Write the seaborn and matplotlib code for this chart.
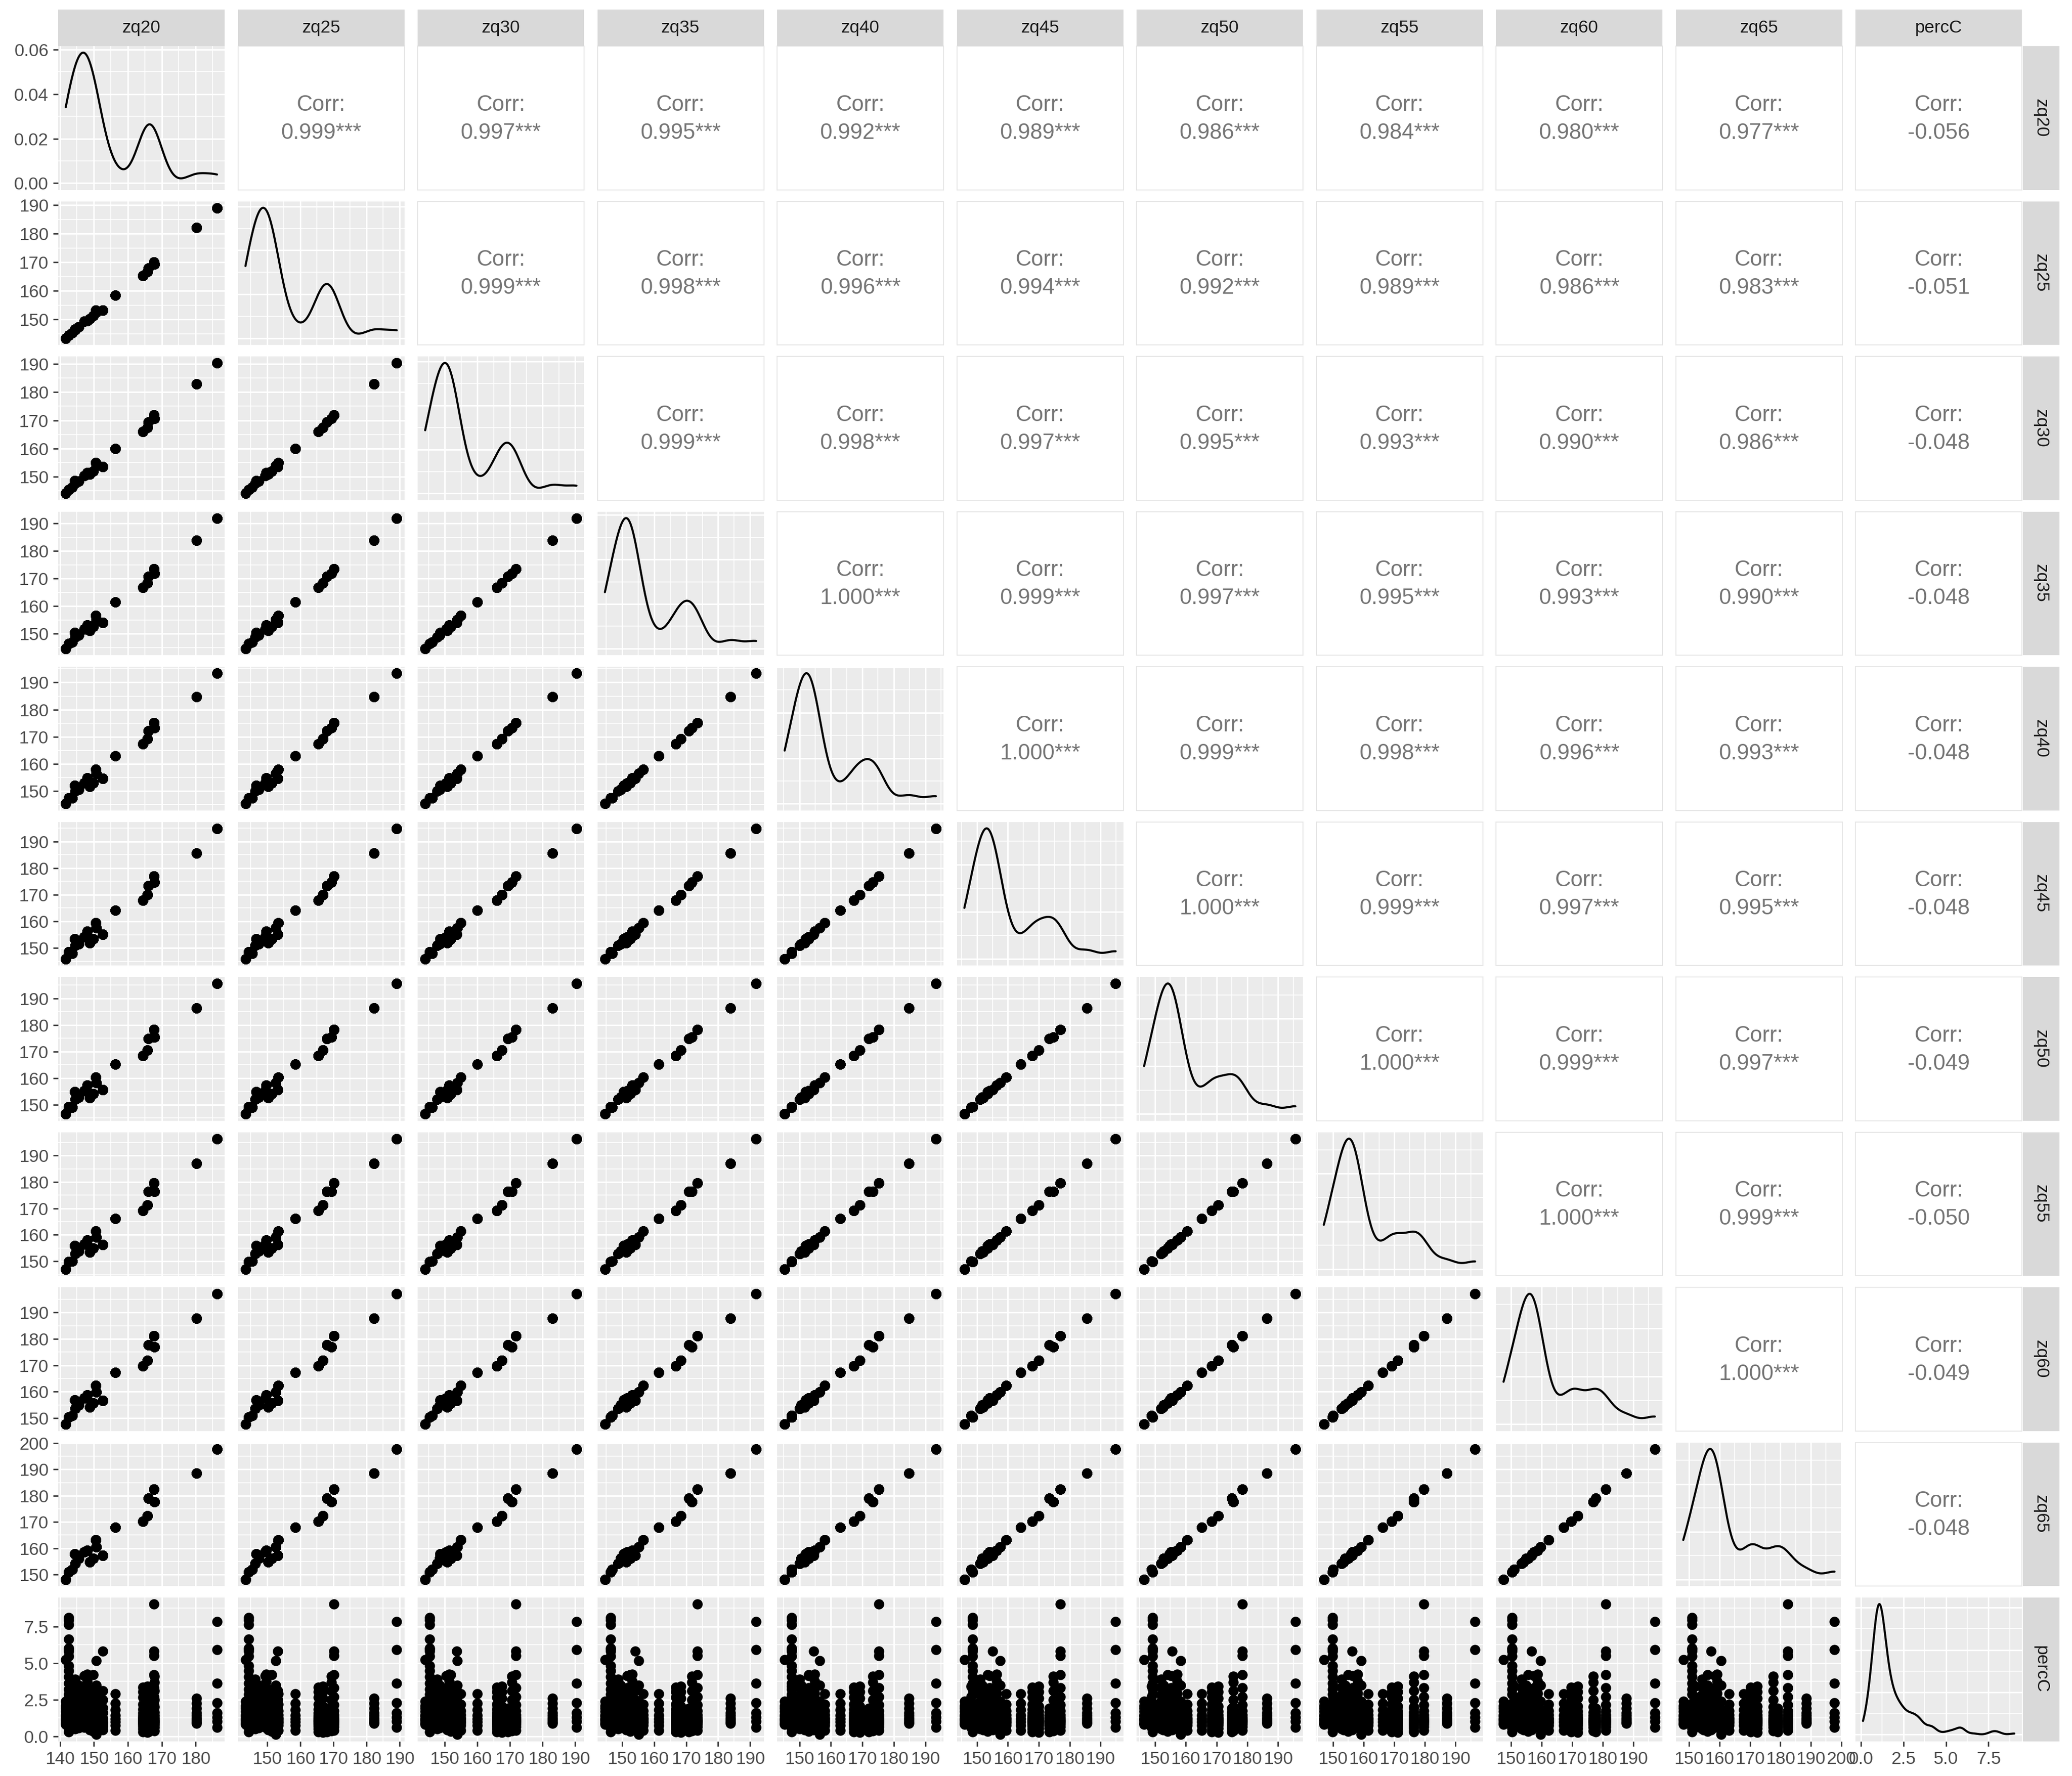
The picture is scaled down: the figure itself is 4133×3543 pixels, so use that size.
import numpy as np
import pandas as pd
import matplotlib
matplotlib.use("Agg")
import matplotlib.pyplot as plt
from matplotlib.ticker import MultipleLocator, MaxNLocator, AutoMinorLocator, FormatStrFormatter
import seaborn as sns

sns.set_style("white")
plt.rcParams["font.family"] = ["Liberation Sans", "DejaVu Sans"]

# one entry per station: the zq quantiles are fixed per station, percC varies
zq20 = [141.7, 142.6, 143.6, 144.5, 144.4, 145.6, 147.1, 148.0, 148.8, 149.8, 150.5,
        150.7, 152.6, 156.3, 164.5, 165.8, 166.1, 167.9, 167.7, 180.2, 186.3]
zq25 = [143.4, 144.4, 145.4, 146.3, 146.6, 147.4, 149.3, 149.6, 150.3, 151.3, 153.3,
        152.6, 153.2, 158.4, 165.4, 166.8, 168.0, 169.4, 170.1, 182.2, 189.1]
zq30 = [144.0, 145.3, 146.2, 147.6, 148.6, 148.4, 150.4, 151.4, 150.8, 151.9, 154.9,
        153.9, 153.6, 159.9, 166.0, 167.5, 169.4, 170.6, 171.8, 183.0, 190.4]
zq35 = [144.6, 146.4, 146.9, 148.8, 150.4, 149.5, 151.6, 153.2, 151.2, 152.5, 156.5,
        155.2, 154.0, 161.5, 166.7, 168.3, 170.8, 171.8, 173.5, 183.9, 191.9]
zq40 = [145.3, 147.5, 147.5, 150.0, 152.0, 150.6, 152.9, 154.8, 151.6, 152.9, 158.0,
        156.4, 154.6, 162.9, 167.3, 169.2, 172.1, 173.3, 175.2, 184.8, 193.4]
zq45 = [145.9, 148.6, 148.0, 151.0, 153.4, 151.6, 154.1, 156.3, 151.9, 153.4, 159.4,
        157.5, 155.1, 164.2, 167.9, 170.0, 173.4, 174.7, 176.9, 185.6, 194.9]
zq50 = [146.5, 149.2, 149.0, 152.0, 154.8, 152.8, 155.3, 157.3, 152.6, 154.2, 160.4,
        158.3, 155.6, 165.2, 168.5, 170.6, 174.9, 175.5, 178.3, 186.4, 195.6]
zq55 = [147.0, 149.8, 150.0, 152.8, 155.9, 153.9, 156.4, 158.0, 153.4, 155.0, 161.4,
        159.1, 156.2, 166.2, 169.1, 171.2, 176.3, 176.3, 179.7, 187.1, 196.4]
zq60 = [147.6, 150.4, 151.0, 153.5, 156.9, 155.0, 157.6, 158.7, 154.1, 155.6, 162.3,
        159.8, 156.7, 167.2, 169.7, 171.8, 177.7, 177.0, 181.1, 187.8, 197.1]
zq65 = [148.1, 151.0, 152.0, 154.2, 157.8, 156.1, 158.6, 159.2, 154.8, 156.1, 163.1,
        160.5, 157.2, 168.0, 170.2, 172.3, 179.1, 177.7, 182.4, 188.5, 197.8]

percC_by_station = [
    [0.82, 0.88, 1.02, 1.15, 1.21, 1.38, 1.47, 1.72, 1.90, 2.10, 2.38, 5.22],
    [0.31, 0.55, 0.68, 0.79, 1.03, 1.11, 1.35, 1.56, 1.85, 2.27, 2.86, 3.22, 3.61, 4.05,
     4.47, 4.82, 5.48, 5.80, 5.95, 6.02, 6.62, 7.62, 7.92, 8.10],
    [0.62, 0.78, 0.96, 1.04, 1.18, 1.26, 1.45, 1.60, 2.00, 2.30, 2.70, 3.40],
    [0.50, 0.72, 0.93, 1.00, 1.12, 1.19, 1.36, 1.48, 1.82, 2.05, 2.40, 2.85, 3.35, 3.90],
    [0.70, 0.90, 1.02, 1.12, 1.24, 1.40, 1.62, 1.95, 2.45, 3.10],
    [0.58, 0.76, 0.89, 0.95, 0.99, 1.07, 1.14, 1.18, 1.22, 1.31, 1.43, 1.58, 1.80, 2.15, 2.70, 3.50],
    [0.60, 0.74, 0.80, 0.85, 0.90, 0.94, 0.98, 1.01, 1.05, 1.08, 1.12, 1.15, 1.19, 1.23, 1.27, 1.32,
     1.36, 1.42, 1.48, 1.55, 1.72, 1.95, 2.25, 2.65, 3.05, 3.30, 4.15],
    [0.65, 0.80, 0.86, 0.90, 0.94, 0.97, 1.01, 1.05, 1.09, 1.12, 1.16, 1.20, 1.25, 1.29, 1.34, 1.40,
     1.45, 1.53, 1.60, 1.70, 1.92, 2.20, 2.55, 2.95, 3.35, 3.75, 4.22],
    [0.45, 0.70, 0.86, 0.92, 0.98, 1.02, 1.06, 1.14, 1.20, 1.25, 1.38, 1.55, 1.80, 2.20, 2.80],
    [0.35, 0.62, 0.80, 0.86, 0.92, 0.97, 1.02, 1.06, 1.10, 1.19, 1.24, 1.30, 1.45, 1.65, 1.95, 2.40,
     3.00, 4.20],
    [0.40, 0.75, 0.92, 1.04, 1.15, 1.28, 1.46, 1.75, 2.20, 2.90],
    [0.12, 0.55, 0.82, 0.96, 1.07, 1.32, 1.85, 2.40, 3.50, 5.15],
    [0.45, 0.72, 0.88, 1.00, 1.22, 1.60, 1.95, 2.50, 3.10, 5.82],
    [0.40, 0.75, 1.00, 1.20, 1.45, 1.80, 2.25, 2.92],
    [0.30, 0.52, 0.70, 0.82, 0.93, 1.02, 1.10, 1.19, 1.29, 1.42, 1.60, 1.85, 2.20, 2.65, 3.05, 3.35],
    [0.28, 0.55, 0.74, 0.88, 0.99, 1.08, 1.18, 1.30, 1.46, 1.70, 2.05, 2.60, 3.05, 3.40],
    [0.30, 0.55, 0.72, 0.86, 0.98, 1.10, 1.25, 1.45, 1.65, 1.90],
    [0.36, 0.62, 0.80, 0.93, 1.04, 1.14, 1.26, 1.42, 1.65, 2.00, 2.50, 3.10, 3.70, 4.10],
    [0.40, 0.65, 0.82, 0.95, 1.06, 1.17, 1.30, 1.48, 1.75, 2.15, 2.70, 3.30, 4.20, 5.50, 5.82, 9.02],
    [0.88, 1.00, 1.12, 1.25, 1.42, 1.62, 1.90, 2.25, 2.58],
    [0.62, 1.02, 1.30, 1.62, 2.28, 3.62, 5.92, 7.82],
]

variables = ["zq20", "zq25", "zq30", "zq35", "zq40", "zq45", "zq50", "zq55", "zq60", "zq65", "percC"]

# correlation labels shown in the upper triangle, row by row
corr_labels = [
    ["0.999***", "0.997***", "0.995***", "0.992***", "0.989***", "0.986***", "0.984***", "0.980***", "0.977***", "-0.056"],
    ["0.999***", "0.998***", "0.996***", "0.994***", "0.992***", "0.989***", "0.986***", "0.983***", "-0.051"],
    ["0.999***", "0.998***", "0.997***", "0.995***", "0.993***", "0.990***", "0.986***", "-0.048"],
    ["1.000***", "0.999***", "0.997***", "0.995***", "0.993***", "0.990***", "-0.048"],
    ["1.000***", "0.999***", "0.998***", "0.996***", "0.993***", "-0.048"],
    ["1.000***", "0.999***", "0.997***", "0.995***", "-0.048"],
    ["1.000***", "0.999***", "0.997***", "-0.049"],
    ["1.000***", "0.999***", "-0.050"],
    ["1.000***", "-0.049"],
    ["-0.048"],
]

zq_cols = dict(zip(variables[:-1], [zq20, zq25, zq30, zq35, zq40, zq45, zq50, zq55, zq60, zq65]))
records = []
for k, vals in enumerate(percC_by_station):
    for v in vals:
        rec = {name: col[k] for name, col in zq_cols.items()}
        rec["percC"] = v
        records.append(rec)
df = pd.DataFrame(records)

# layout in pixels of the 4133 x 3543 canvas
W, H = 4133, 3543
left0, top0 = 116, 92
pitch_x, pitch_y = 358.5, 309.5
pw, ph = 332, 286.5
strip = 73
n = len(variables)

lims = {}
for v in variables:
    lo, hi = df[v].min(), df[v].max()
    pad = 0.05 * (hi - lo)
    lims[v] = (lo - pad, hi + pad)

fig = plt.figure(figsize=(W / 300, H / 300), dpi=300)

tick_kw = dict(length=2.4, width=0.65, color="#333333", labelcolor="#4D4D4D", labelsize=8.5, pad=2.2)


def rect(i, j):
    x = left0 + j * pitch_x
    y = top0 + i * pitch_y
    return [x / W, 1 - (y + ph) / H, pw / W, ph / H]


def set_locators(axis, var):
    if var == "percC":
        axis.set_major_locator(MultipleLocator(2.5))
        axis.set_minor_locator(MultipleLocator(1.25))
        axis.set_major_formatter(FormatStrFormatter("%.1f"))
    else:
        axis.set_major_locator(MultipleLocator(10))
        axis.set_minor_locator(MultipleLocator(5))
        axis.set_major_formatter(FormatStrFormatter("%d"))


for i, yv in enumerate(variables):
    for j, xv in enumerate(variables):
        ax = fig.add_axes(rect(i, j))
        for s in ax.spines.values():
            s.set_visible(False)
        ax.tick_params(which="both", left=False, bottom=False, labelleft=False, labelbottom=False)

        if i < j:
            ax.set_facecolor("white")
            for s in ax.spines.values():
                s.set_visible(True)
                s.set_color("#E6E6E6")
                s.set_linewidth(0.45)
            ax.set_xticks([])
            ax.set_yticks([])
            ax.text(0.5, 0.59, "Corr:", transform=ax.transAxes, ha="center", va="center",
                    fontsize=10.5, color="#757575")
            ax.text(0.5, 0.395, corr_labels[i][j - i - 1], transform=ax.transAxes,
                    ha="center", va="center", fontsize=10.5, color="#757575")
            continue

        ax.set_facecolor("#EBEBEB")
        ax.set_axisbelow(True)
        set_locators(ax.xaxis, xv)

        if i == j:
            x = df[xv]
            iqr = np.subtract(*np.percentile(x, [75, 25]))
            h = 0.9 * min(x.std(), iqr / 1.34) * len(x) ** -0.2
            sns.kdeplot(x=x, ax=ax, bw_method=h / x.std(), cut=0, gridsize=512,
                        color="black", linewidth=1.0)
            ymax = ax.lines[-1].get_ydata().max()
            ax.set_ylim(-0.05 * ymax, 1.05 * ymax)
            ax.yaxis.set_major_locator(MaxNLocator(nbins=4, steps=[1, 2, 2.5, 5, 10]))
            ax.yaxis.set_minor_locator(AutoMinorLocator(2))
            ax.yaxis.set_major_formatter(FormatStrFormatter("%.2f"))
        else:
            sns.scatterplot(x=df[xv], y=df[yv], ax=ax, color="black", s=24, linewidth=0)
            ax.set_ylim(*lims[yv])
            set_locators(ax.yaxis, yv)

        ax.set_xlim(*lims[xv])
        ax.set_xlabel("")
        ax.set_ylabel("")
        ax.grid(True, which="major", color="white", linewidth=0.7)
        ax.grid(True, which="minor", color="white", linewidth=0.4)

        if j == 0:
            ax.tick_params(axis="y", which="major", left=True, labelleft=True, **tick_kw)
        if i == n - 1:
            ax.tick_params(axis="x", which="major", bottom=True, labelbottom=True, **tick_kw)

# strips: variable names on top and on the right
for k, v in enumerate(variables):
    x = left0 + k * pitch_x
    sax = fig.add_axes([x / W, 1 - top0 / H, pw / W, strip / H])
    sax.set_facecolor("#D9D9D9")
    sax.set_xticks([])
    sax.set_yticks([])
    for s in sax.spines.values():
        s.set_visible(False)
    sax.text(0.5, 0.5, v, transform=sax.transAxes, ha="center", va="center",
             fontsize=8.5, color="#1A1A1A")

    y = top0 + k * pitch_y
    rax = fig.add_axes([(left0 + (n - 1) * pitch_x + pw + 2) / W, 1 - (y + ph) / H, strip / W, ph / H])
    rax.set_facecolor("#D9D9D9")
    rax.set_xticks([])
    rax.set_yticks([])
    for s in rax.spines.values():
        s.set_visible(False)
    rax.text(0.5, 0.5, v, transform=rax.transAxes, ha="center", va="center", rotation=270,
             fontsize=8.5, color="#1A1A1A")

fig.savefig("out.png", dpi=300, facecolor="white")
